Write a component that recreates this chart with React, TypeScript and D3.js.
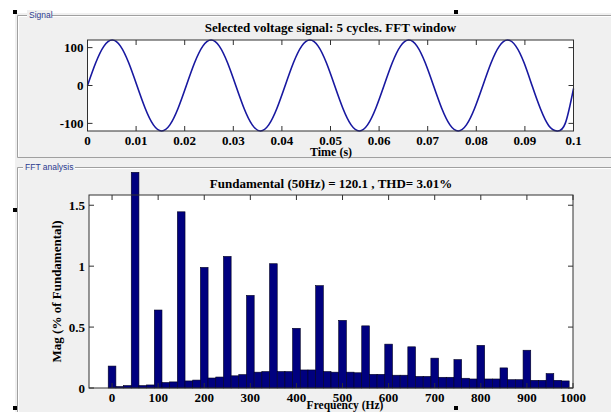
import React from "react";
import * as d3 from "d3";

// ---- data ----
const signalTitle = "Selected voltage signal: 5 cycles. FFT window";
const fftTitle = "Fundamental (50Hz) = 120.1 , THD= 3.01%";
const signalDuration = 0.1; // s
// samples every 1/12 of a cycle (30 deg)
const signalValues = [
  0, 60, 104, 120, 104, 60, 0, -60, -104, -120, -104, -60,
  0, 60, 104, 120, 104, 60, 0, -60, -104, -120, -104, -60,
  0, 60, 104, 120, 104, 60, 0, -60, -104, -120, -104, -60,
  0, 60, 104, 120, 104, 60, 0, -60, -104, -120, -104, -60,
  0, 60, 104, 120, 104, 60, -2, -62, -106, -120, -100, -8,
];
const timeTicks = [0, 0.01, 0.02, 0.03, 0.04, 0.05, 0.06, 0.07, 0.08, 0.09, 0.1];
const signalTicks = [-100, 0, 100];

const binWidthHz = 50 / 3;
const fftMagnitudes = [
  0.18, 0.012, 0.02, 1.77, 0.02, 0.025, 0.64, 0.045, 0.05, 1.446,
  0.058, 0.065, 0.99, 0.082, 0.09, 1.08, 0.1, 0.11, 0.76, 0.13,
  0.135, 1.02, 0.135, 0.135, 0.49, 0.148, 0.148, 0.84, 0.135, 0.13,
  0.555, 0.13, 0.125, 0.51, 0.112, 0.112, 0.36, 0.105, 0.105, 0.338,
  0.095, 0.095, 0.245, 0.088, 0.088, 0.233, 0.08, 0.074, 0.35, 0.074,
  0.074, 0.165, 0.068, 0.068, 0.31, 0.063, 0.063, 0.118, 0.063, 0.058,
];
const freqTicks = [0, 100, 200, 300, 400, 500, 600, 700, 800, 900, 1000];
const magTicks = [0, 0.5, 1, 1.5];

const SERIF = "'Liberation Serif', 'Times New Roman', serif";
const SANS = "'Liberation Sans', Arial, sans-serif";

export default function App() {
  // top axes
  const t = { l: 87.5, r: 573.5, t: 40, b: 131 };
  const xs = d3.scaleLinear().domain([0, signalDuration]).range([t.l, t.r]);
  const ys = d3.scaleLinear().domain([-120.1, 120.1]).range([t.b, t.t]);
  const line = d3
    .line<number>()
    .x((_, i) => xs((i * signalDuration) / (signalValues.length - 1)))
    .y((v) => ys(v))
    .curve(d3.curveNatural);

  // bottom axes
  const f = { l: 89, r: 573, t: 195, b: 388 };
  const xf = d3.scaleLinear().domain([-50, 1000]).range([f.l, f.r]);
  const yf = d3.scaleLinear().domain([0, 1.584]).range([f.b, f.t]);

  const tickLen = 5;
  const axisCol = "#303030";
  const fmtT = (v: number) => (v === 0 ? "0" : d3.format("~g")(v));

  return (
    <svg width={611} height={412} style={{ position: "absolute", left: 0, top: 0, background: "#fff" }}>
      <rect x={15} y={13} width={596} height={399} fill="#f0f0f0" />
      {/* panels */}
      <g fill="none">
        <path d={`M611,15.5 H17.5 V157.5 H611`} stroke="#a0a0a0" />
        <path d={`M611,16.5 H18.5 V156.5`} stroke="#ffffff" />
        <path d={`M611,167.5 H17.5 V412`} stroke="#a0a0a0" />
        <path d={`M611,168.5 H18.5 V412`} stroke="#ffffff" />
      </g>
      <rect x={27} y={10} width={25} height={10} fill="#f0f0f0" />
      <text x={29} y={18} fontFamily={SANS} fontSize={8.5} fill="#2b3a8f">Signal</text>
      <rect x={23} y={162} width={52} height={10} fill="#f0f0f0" />
      <text x={25} y={170} fontFamily={SANS} fontSize={8.5} fill="#2b3a8f">FFT analysis</text>

      {/* selection handles */}
      {[
        [13, 10],
        [454, 10],
        [13, 208],
        [13, 406],
        [454, 406],
      ].map(([x, y], i) => (
        <rect key={i} x={x} y={y} width={4} height={4} fill="#000" />
      ))}

      {/* ---- signal axes ---- */}
      <rect x={t.l} y={t.t} width={t.r - t.l} height={t.b - t.t} fill="#fff" />
      <path d={line(signalValues) || ""} fill="none" stroke="#1818a0" strokeWidth={1.6} />
      <rect x={t.l} y={t.t} width={t.r - t.l} height={t.b - t.t} fill="none" stroke={axisCol} strokeWidth={1} />
      {timeTicks.map((v) => (
        <g key={v}>
          <line x1={xs(v)} x2={xs(v)} y1={t.b} y2={t.b - tickLen} stroke={axisCol} />
          <line x1={xs(v)} x2={xs(v)} y1={t.t} y2={t.t + tickLen} stroke={axisCol} />
          <text x={xs(v)} y={145} textAnchor="middle" fontFamily={SERIF} fontWeight="bold" fontSize={13} fill="#000">
            {fmtT(v)}
          </text>
        </g>
      ))}
      {signalTicks.map((v) => (
        <g key={v}>
          <line x1={t.l} x2={t.l + tickLen} y1={ys(v)} y2={ys(v)} stroke={axisCol} />
          <line x1={t.r} x2={t.r - tickLen} y1={ys(v)} y2={ys(v)} stroke={axisCol} />
          <text x={83.5} y={ys(v) + 4.5} textAnchor="end" fontFamily={SERIF} fontWeight="bold" fontSize={13} fill="#000">
            {v}
          </text>
        </g>
      ))}
      <text x={(t.l + t.r) / 2} y={31.5} textAnchor="middle" fontFamily={SERIF} fontWeight="bold" fontSize={13} fill="#000">
        {signalTitle}
      </text>
      <text x={331} y={156} textAnchor="middle" fontFamily={SERIF} fontWeight="bold" fontSize={12} fill="#000">
        Time (s)
      </text>

      {/* ---- FFT axes ---- */}
      <rect x={f.l} y={f.t} width={f.r - f.l} height={f.b - f.t} fill="#fff" />
      {fftMagnitudes.map((m, i) => {
        const c = i * binWidthHz;
        const x0 = xf(c - binWidthHz / 2);
        const x1 = xf(c + binWidthHz / 2);
        return (
          <rect
            key={i}
            x={x0}
            y={yf(m)}
            width={x1 - x0}
            height={yf(0) - yf(m)}
            fill="#00007f"
            stroke="#000020"
            strokeWidth={0.6}
          />
        );
      })}
      <rect x={f.l} y={f.t} width={f.r - f.l} height={f.b - f.t} fill="none" stroke={axisCol} strokeWidth={1} />
      {freqTicks.map((v) => (
        <g key={v}>
          <line x1={xf(v)} x2={xf(v)} y1={f.b} y2={f.b - tickLen} stroke={axisCol} />
          <line x1={xf(v)} x2={xf(v)} y1={f.t} y2={f.t + tickLen} stroke={axisCol} />
          <text x={xf(v)} y={402} textAnchor="middle" fontFamily={SERIF} fontWeight="bold" fontSize={13} fill="#000">
            {v}
          </text>
        </g>
      ))}
      {magTicks.map((v) => (
        <g key={v}>
          <line x1={f.l} x2={f.l + tickLen} y1={yf(v)} y2={yf(v)} stroke={axisCol} />
          <line x1={f.r} x2={f.r - tickLen} y1={yf(v)} y2={yf(v)} stroke={axisCol} />
          <text x={85} y={yf(v) + 4.5} textAnchor="end" fontFamily={SERIF} fontWeight="bold" fontSize={13} fill="#000">
            {v}
          </text>
        </g>
      ))}
      <text x={(f.l + f.r) / 2} y={187.5} textAnchor="middle" fontFamily={SERIF} fontWeight="bold" fontSize={13} fill="#000">
        {fftTitle}
      </text>
      <text x={345} y={409} textAnchor="middle" fontFamily={SERIF} fontWeight="bold" fontSize={11.5} fill="#000">
        Frequency (Hz)
      </text>
      <text
        transform={`translate(61,${(f.t + f.b) / 2}) rotate(-90)`}
        textAnchor="middle"
        fontFamily={SERIF}
        fontWeight="bold"
        fontSize={13}
        fill="#000"
      >
        Mag (% of Fundamental)
      </text>
    </svg>
  );
}
